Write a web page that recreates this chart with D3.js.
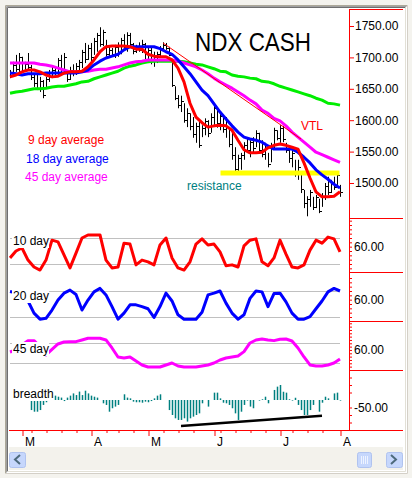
<!DOCTYPE html>
<html>
<head>
<meta charset="utf-8">
<script src="https://cdn.jsdelivr.net/npm/d3@7"></script>
<style>
  body { margin: 0; background: #f4f3ee; }
  svg text { font-family: Arial, "Liberation Sans", sans-serif; }
</style>
</head>
<body>
<div id="chart"></div>
<script>
// NDX cash, one bar per session (late Feb .. early Aug)
const dayCount = 111;

const highs = [1680,1693,1704,1707,1701,1693,1707,1688,1672,1672,
  1669,1664,1669,1680,1685,1686,1699,1704,1707,1680,
  1685,1689,1691,1696,1712,1723,1720,1723,1731,1739,
  1748,1744,1728,1717,1715,1720,1724,1731,1737,1740,
  1739,1723,1720,1724,1728,1723,1717,1715,1709,1709,
  1718,1724,1723,1717,1691,1654,1640,1639,1627,1619,
  1611,1605,1596,1600,1592,1603,1600,1611,1627,1619,
  1611,1608,1605,1588,1580,1557,1545,1548,1565,1573,
  1568,1573,1584,1580,1568,1564,1548,1564,1588,1584,
  1592,1591,1564,1557,1553,1537,1537,1516,1489,1479,
  1489,1478,1481,1475,1484,1500,1510,1505,1510,1518,1497];

const lows = [1667,1670,1677,1674,1675,1677,1680,1664,1653,1648,
  1645,1635,1651,1661,1667,1672,1669,1677,1675,1661,
  1664,1670,1672,1677,1683,1691,1696,1693,1704,1709,
  1717,1718,1701,1699,1702,1699,1701,1705,1712,1709,
  1718,1705,1707,1709,1707,1693,1691,1689,1685,1691,
  1699,1709,1712,1702,1653,1632,1619,1613,1596,1589,
  1584,1572,1564,1556,1573,1576,1573,1580,1589,1588,
  1584,1580,1572,1557,1537,1518,1518,1521,1537,1548,
  1541,1549,1557,1548,1541,1537,1525,1533,1553,1568,
  1564,1565,1548,1532,1525,1510,1505,1484,1460,1447,
  1462,1457,1460,1452,1462,1473,1481,1484,1489,1497,1478];

const closes = [1672,1688,1682,1700,1680,1690,1684,1668,1660,1652,
  1662,1640,1665,1675,1680,1676,1696,1682,1700,1666,
  1680,1675,1686,1692,1708,1698,1715,1700,1726,1735,
  1722,1740,1705,1712,1706,1716,1720,1728,1716,1735,
  1722,1710,1716,1712,1722,1698,1712,1694,1700,1705,
  1715,1720,1715,1704,1656,1636,1625,1630,1600,1612,
  1590,1578,1590,1560,1588,1598,1580,1605,1620,1595,
  1606,1586,1600,1562,1545,1522,1540,1545,1560,1552,
  1565,1555,1580,1552,1546,1560,1530,1560,1584,1572,
  1588,1570,1552,1540,1548,1515,1525,1490,1468,1475,
  1485,1462,1478,1456,1480,1496,1486,1500,1494,1512,1485];

// averages, read every second session
const ma9 = [1669,1672,1677,1680,1680,1677,1672,1669,1670,1675,
  1677,1677,1678,1685,1696,1709,1717,1718,1718,1718,
  1717,1713,1713,1705,1702,1701,1701,1696,1683,1661,
  1627,1605,1596,1589,1591,1592,1591,1584,1568,1553,
  1548,1548,1549,1556,1560,1562,1560,1557,1554,1532,
  1508,1486,1478,1478,1479,1486];
const ma18 = [1675,1674,1672,1674,1674,1674,1675,1675,1675,1675,
  1675,1675,1677,1680,1688,1694,1699,1702,1705,1712,
  1717,1717,1717,1717,1717,1714,1709,1705,1696,1685,
  1674,1661,1648,1639,1626,1613,1602,1591,1581,1573,
  1570,1568,1565,1559,1554,1554,1554,1554,1549,1541,
  1532,1521,1513,1506,1498,1492];
const ma45 = [1691,1691,1691,1691,1691,1689,1688,1686,1683,1680,
  1677,1677,1677,1678,1680,1681,1681,1683,1685,1688,
  1691,1693,1694,1696,1696,1696,1696,1696,1694,1691,
  1688,1685,1680,1674,1667,1661,1656,1651,1645,1639,
  1632,1626,1616,1611,1603,1599,1591,1581,1573,1565,
  1557,1549,1545,1541,1537,1533];
const maLong = [1643,1645,1646,1648,1650,1650,1651,1653,1654,1654,
  1656,1658,1661,1662,1666,1669,1672,1675,1678,1683,
  1686,1688,1691,1693,1694,1694,1694,1694,1694,1693,
  1691,1689,1688,1685,1682,1678,1677,1672,1670,1669,
  1667,1666,1662,1661,1658,1654,1651,1648,1645,1642,
  1639,1635,1632,1627,1626,1624];

// cycle oscillators, same sampling
const osc10 = [34,50,57,29,13,6,29,75,71,41,
  11,45,80,87,87,87,29,11,13,68,
  66,18,29,25,18,64,80,34,11,6,
  25,66,78,64,66,48,16,18,13,62,
  75,78,25,16,34,75,43,13,11,18,
  52,75,68,82,78,48];
const osc20 = [79,76,68,57,29,15,17,36,59,75,
  82,72,36,59,78,86,71,44,15,29,
  48,48,44,39,19,44,75,57,25,15,
  15,15,31,71,75,80,52,29,15,25,
  63,80,78,44,74,75,55,29,15,15,
  21,39,57,78,86,80];
const osc45 = [54,60,75,88,88,70,45,62,78,84,
  85,85,90,95,95,95,90,66,39,36,
  39,27,15,9,9,9,15,21,12,9,
  9,9,12,15,21,30,36,39,42,55,
  81,90,93,90,88,92,93,87,66,39,
  15,12,12,15,21,33];

const breadth = [0,0,0,-2,0,0,-5,-67,-78,-78,
  -67,-33,-15,0,0,29,22,16,-7,16,
  29,44,33,56,33,62,44,29,22,16,
  0,-22,-33,-78,-55,-44,-33,0,38,16,
  11,-11,-15,-15,-18,-11,-15,-7,11,29,
  38,0,0,-67,-100,-122,-133,-133,-122,-144,
  -122,-111,-100,-89,-22,0,-44,0,49,49,
  11,-18,-22,-33,-55,-89,-133,-78,-33,-4,
  -44,-55,0,-4,5,22,-22,0,67,89,
  100,55,49,5,-4,15,-33,-67,-100,-100,
  -67,-33,0,-78,-18,22,11,0,44,49,-4];

// drawn lines: [session, value]
const vtl = [[51, 1723], [97, 1570]];
const resistance = [[71, 1516], [109, 1516]];
const breadthTrend = [[57, -173], [104, -105]];

const priceTicks = [1500, 1550, 1600, 1650, 1700, 1750];
const monthTicks = [4, 27, 46, 68, 90, 110];
const monthLabels = ['M', 'A', 'M', 'J', 'J', 'A'];
const weekTicks = [7, 12, 17, 22, 32, 36, 41, 51, 56, 61, 70, 75, 80, 85, 94, 99, 104];

const W = 412, H = 478;
const axisX = 349;
const maDays = d3.range(0, dayCount, 2);

const svg = d3.select('#chart').append('svg')
  .attr('width', W)
  .attr('height', H);

// window frame
svg.append('rect').attr('width', W).attr('height', H).attr('fill', '#f4f3ee');
svg.append('rect').attr('x', 5).attr('y', 5).attr('width', 403).attr('height', 469).attr('fill', '#fff');
svg.append('rect').attr('x', 9).attr('y', 447).attr('width', 394).attr('height', 23).attr('fill', '#f3f2ec');
svg.append('path').attr('d', 'M5.5,473.5V5.5H407.5').attr('fill', 'none').attr('stroke', '#aca899');
svg.append('path').attr('d', 'M6.5,472.5V6.5H406.5').attr('fill', 'none').attr('stroke', '#a0a0a0');
svg.append('path').attr('d', 'M7.5,471.5V7.5H405.5').attr('fill', 'none').attr('stroke', '#6f6f6f');
svg.append('path').attr('d', 'M5.5,473.5H407.5V5.5').attr('fill', 'none').attr('stroke', '#d4d0c8');
svg.append('path').attr('d', 'M7.5,471.5H405.5V7.5').attr('fill', 'none').attr('stroke', '#e2e0d6');

const x = d3.scaleLinear().domain([0, dayCount - 1]).range([10, 340]);
const yPrice = d3.scaleLinear().domain([1500, 1750]).range([183, 26]);

const plot = svg.append('g');
svg.append('clipPath').attr('id', 'plotClip')
  .append('rect').attr('x', 9).attr('y', 9).attr('width', axisX - 9).attr('height', 421);
plot.attr('clip-path', 'url(#plotClip)');

// ---- price panel ----
const days = d3.range(dayCount);
plot.append('g').selectAll('line.bar')
  .data(days).enter().append('line')
  .attr('x1', i => x(i) + 0.5).attr('x2', i => x(i) + 0.5)
  .attr('y1', i => yPrice(highs[i])).attr('y2', i => yPrice(lows[i]))
  .attr('stroke', '#000').attr('stroke-width', 1);
plot.append('g').selectAll('line.close')
  .data(days).enter().append('line')
  .attr('x1', i => x(i) + 1).attr('x2', i => x(i) + 3)
  .attr('y1', i => Math.round(yPrice(closes[i])) + 0.5)
  .attr('y2', i => Math.round(yPrice(closes[i])) + 0.5)
  .attr('stroke', '#000').attr('stroke-width', 1);

const lineOf = (scale, xs) => d3.line().x((d, k) => x(xs[k])).y(d => scale(d));
const pairLine = scale => d3.line().x(d => x(d[0])).y(d => scale(d[1]));

plot.append('path').datum(resistance)
  .attr('d', pairLine(yPrice))
  .attr('fill', 'none').attr('stroke', '#ffff00').attr('stroke-width', 5)
  .attr('stroke-linecap', 'square');

[[maLong, '#00ee00'], [ma45, '#ff00ff'], [ma18, '#0000ff'], [ma9, '#ff0000']].forEach(([s, c]) => {
  plot.append('path').datum(s)
    .attr('d', lineOf(yPrice, maDays))
    .attr('fill', 'none').attr('stroke', c).attr('stroke-width', 3)
    .attr('stroke-linejoin', 'round');
});

plot.append('path').datum(vtl)
  .attr('d', pairLine(yPrice))
  .attr('fill', 'none').attr('stroke', '#ff0000').attr('stroke-width', 1);

svg.append('text').attr('x', 195).attr('y', 51)
  .attr('font-size', 25).attr('textLength', 116).attr('lengthAdjust', 'spacingAndGlyphs')
  .text('NDX CASH');

const notes = [
  ['9 day average', 28, 144, '#ff0000'],
  ['18 day average', 26, 163, '#0000ff'],
  ['45 day average', 25, 181, '#ff00ff'],
  ['resistance', 187, 190, '#008080'],
  ['VTL', 301, 130, '#ff0000']
];
notes.forEach(([t, tx, ty, c]) => {
  svg.append('text').attr('x', tx).attr('y', ty)
    .attr('font-size', 12).attr('fill', c).text(t);
});

// ---- oscillator panels ----
const panels = [
  { name: '10 day', data: osc10, color: '#ff0000', top: 218, bottom: 272, y: d3.scaleLinear().domain([20, 80]).range([264, 238]), base: 245 },
  { name: '20 day', data: osc20, color: '#0000ff', top: 272, bottom: 321, y: d3.scaleLinear().domain([20, 80]).range([317, 291]), base: 300 },
  { name: '45 day', data: osc45, color: '#ff00ff', top: 321, bottom: 370, y: d3.scaleLinear().domain([20, 80]).range([363.3, 343.3]), base: 353 }
];

panels.forEach(p => {
  plot.append('g').selectAll('line')
    .data([20, 80]).enter().append('line')
    .attr('x1', 10).attr('x2', 340)
    .attr('y1', d => Math.round(p.y(d)) + 0.5).attr('y2', d => Math.round(p.y(d)) + 0.5)
    .attr('stroke', '#c0c0c0');
  plot.append('path').datum(p.data)
    .attr('d', lineOf(p.y, maDays))
    .attr('fill', 'none').attr('stroke', p.color).attr('stroke-width', 3)
    .attr('stroke-linejoin', 'round');

  const lo = Math.ceil(p.y.invert(p.bottom - 2) / 10) * 10;
  const hi = Math.floor(p.y.invert(p.top + 2) / 10) * 10;
  const ax = svg.append('g').attr('transform', `translate(${axisX},0)`)
    .call(d3.axisRight(p.y).tickValues(d3.range(lo, hi + 1, 10)).tickSize(3)
      .tickFormat(d => d === 60 ? '60.00' : ''));
  ax.select('.domain').remove();
  ax.selectAll('line').attr('stroke', '#ff0000');
  ax.selectAll('text').attr('font-size', 12).attr('fill', '#000').attr('x', 5)
    .attr('font-family', 'Arial, "Liberation Sans", sans-serif');
});

// ---- breadth ----
const yBreadth = d3.scaleLinear().domain([-200, 200]).range([430, 370]);
plot.append('g').selectAll('rect')
  .data(days.filter(i => breadth[i] !== 0)).enter().append('rect')
  .attr('x', i => x(i) - 0.25).attr('width', 1.5)
  .attr('y', i => yBreadth(Math.max(0, breadth[i])))
  .attr('height', i => Math.abs(yBreadth(breadth[i]) - yBreadth(0)))
  .attr('fill', '#008080');
plot.append('path').datum(breadthTrend)
  .attr('d', pairLine(yBreadth))
  .attr('fill', 'none').attr('stroke', '#000').attr('stroke-width', 2.5);

const bAx = svg.append('g').attr('transform', `translate(${axisX},0)`)
  .call(d3.axisRight(yBreadth).tickValues([-150, -100, -50, 50, 100, 150]).tickSize(3)
    .tickFormat(d => d === -50 ? '-50.00' : ''));
bAx.select('.domain').remove();
bAx.selectAll('line').attr('stroke', '#ff0000');
bAx.selectAll('text').attr('font-size', 12).attr('fill', '#000').attr('x', 5)
  .attr('font-family', 'Arial, "Liberation Sans", sans-serif');

// panel labels sit on white boxes
[...panels.map(p => [p.name, p.base]), ['breadth', 398]].forEach(([t, b]) => {
  const lbl = svg.append('text').attr('x', 13).attr('y', b).attr('font-size', 12).text(t);
  const bb = lbl.node().getBBox();
  svg.insert('rect', () => lbl.node())
    .attr('x', bb.x - 1).attr('y', bb.y).attr('width', bb.width + 1).attr('height', bb.height)
    .attr('fill', '#fff');
});

// ---- price axis ----
const pAx = svg.append('g').attr('transform', `translate(${axisX},0)`)
  .call(d3.axisRight(yPrice).tickValues(priceTicks).tickSize(5).tickPadding(1)
    .tickFormat(d3.format('.2f')));
pAx.select('.domain').remove();
pAx.selectAll('line').attr('stroke', '#ff0000');
pAx.selectAll('text').attr('font-size', 12).attr('fill', '#000')
  .attr('font-family', 'Arial, "Liberation Sans", sans-serif');

// red frame lines of the axis area
svg.append('line').attr('x1', axisX + 0.5).attr('x2', axisX + 0.5).attr('y1', 9).attr('y2', 431)
  .attr('stroke', '#ff0000');
svg.append('g').selectAll('line')
  .data([9, 218, 272, 321, 370]).enter().append('line')
  .attr('x1', axisX).attr('x2', 403)
  .attr('y1', d => d + 0.5).attr('y2', d => d + 0.5)
  .attr('stroke', '#ff0000');
svg.append('line').attr('x1', 9).attr('x2', 403).attr('y1', 430.5).attr('y2', 430.5)
  .attr('stroke', '#ff0000');

// ---- time axis ----
const wAx = svg.append('g').attr('transform', 'translate(0.5,430)')
  .call(d3.axisBottom(x).tickValues(weekTicks).tickSize(3).tickFormat(''));
wAx.select('.domain').remove();
wAx.selectAll('line').attr('stroke', '#ff0000');

const mAx = svg.append('g').attr('transform', 'translate(0.5,430)')
  .call(d3.axisBottom(x).tickValues(monthTicks).tickSize(6).tickPadding(1)
    .tickFormat((d, k) => monthLabels[k]));
mAx.select('.domain').remove();
mAx.selectAll('line').attr('stroke', '#ff0000');
mAx.selectAll('text').attr('font-size', 12).attr('fill', '#000')
  .attr('text-anchor', 'start').attr('x', 2)
  .attr('font-family', 'Arial, "Liberation Sans", sans-serif');

// ---- scrollbar ----
const sb = svg.append('g');
[[9, 'M20,455 L15,459.5 L20,464'], [386, 'M391,455 L396,459.5 L391,464']].forEach(([bx, arrow]) => {
  sb.append('rect').attr('x', bx + 0.5).attr('y', 452.5).attr('width', 16).attr('height', 15).attr('rx', 2)
    .attr('fill', '#c6d7fc').attr('stroke', '#b0c3ef');
  sb.append('path').attr('d', arrow).attr('fill', 'none').attr('stroke', '#4d6a7c').attr('stroke-width', 2);
});
sb.append('rect').attr('x', 357.5).attr('y', 452.5).attr('width', 14).attr('height', 15).attr('rx', 2)
  .attr('fill', '#c6d7fc').attr('stroke', '#b0c3ef');
sb.append('g').selectAll('line').data([361, 363, 365, 367]).enter().append('line')
  .attr('x1', d => d + 0.5).attr('x2', d => d + 0.5).attr('y1', 456).attr('y2', 464)
  .attr('stroke', '#eef3ff');
</script>
</body>
</html>
